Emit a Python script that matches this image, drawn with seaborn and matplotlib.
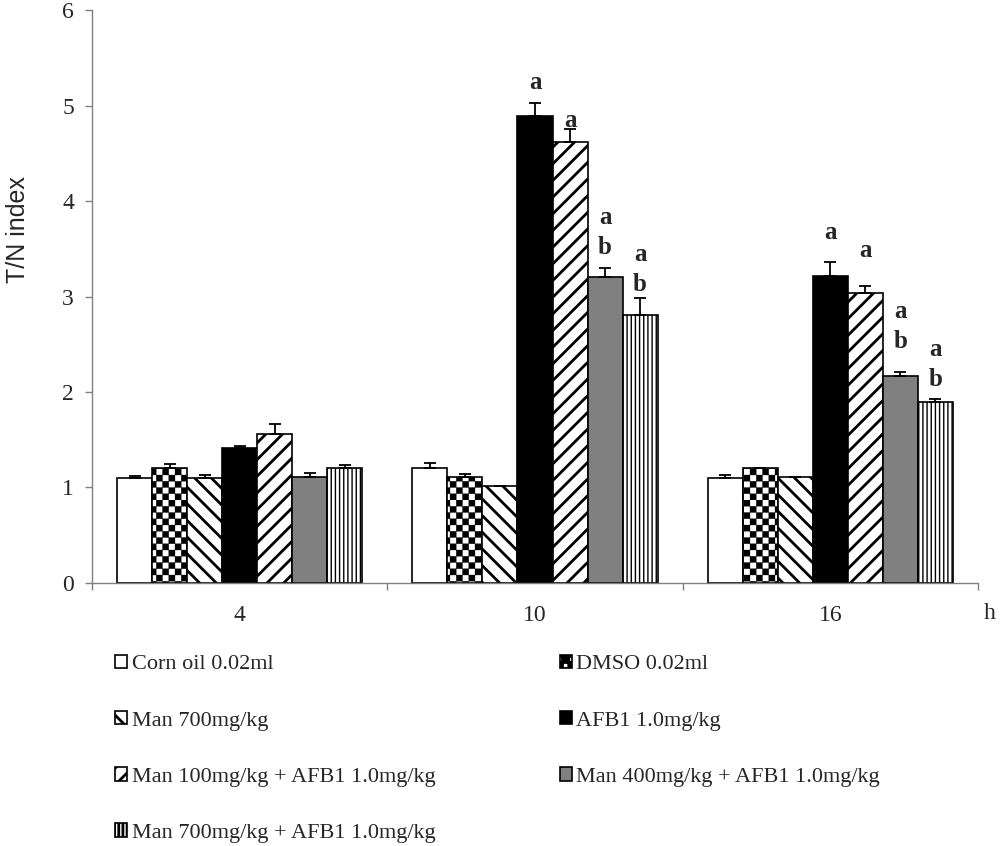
import warnings
import numpy as np
import pandas as pd
import matplotlib
matplotlib.use("Agg")
import matplotlib.pyplot as plt
import matplotlib.hatch as mhatch
from matplotlib.path import Path
import seaborn as sns

warnings.filterwarnings("ignore", message=".*hatch must consist.*")

# data
times = ["4", "10", "16"]
groups = ["Corn oil 0.02ml", "DMSO 0.02ml", "Man 700mg/kg", "AFB1 1.0mg/kg",
          "Man 100mg/kg + AFB1 1.0mg/kg", "Man 400mg/kg + AFB1 1.0mg/kg",
          "Man 700mg/kg + AFB1 1.0mg/kg"]
vals_4 = [1.10, 1.20, 1.10, 1.41, 1.56, 1.11, 1.20]
vals_10 = [1.20, 1.11, 1.02, 4.89, 4.62, 3.20, 2.81]
vals_16 = [1.10, 1.20, 1.11, 3.21, 3.04, 2.17, 1.90]
err_4 = [0.02, 0.05, 0.03, 0.02, 0.10, 0.04, 0.04]
err_10 = [0.06, 0.03, 0.00, 0.14, 0.13, 0.10, 0.17]
err_16 = [0.03, 0.00, 0.00, 0.15, 0.07, 0.04, 0.03]
letters_4 = ["", "", "", "", "", "", ""]
letters_10 = ["", "", "", "a", "a", "a\nb", "a\nb"]
letters_16 = ["", "", "", "a", "a", "a\nb", "a\nb"]

# styling per group
colors = ["white", "white", "white", "black", "white", "#808080", "white"]
hatches = [None, "c", "\\\\", None, "//", None, "||||"]
hatch_lw = [1, 0.2, 2.0, 1, 2.0, 1, 1.0]
letter_pad = {"4": [0] * 7,
              "10": [0, 0, 0, 10, 2, 10, 5],
              "16": [0, 0, 0, 17, 21, 17, 9]}


# checkerboard hatch (not built into matplotlib)
class CheckerHatch(mhatch.HatchPatternBase):
    def __init__(self, hatch, density):
        self.n = 16 if "c" in hatch else 0
        self.num_vertices = (self.n * self.n // 2) * 5

    def set_vertices_and_codes(self, vertices, codes):
        s = 1.0 / self.n
        sq = np.array([[0, 0], [1, 0], [1, 1], [0, 1], [0, 0]]) * s
        k = 0
        for i in range(self.n):
            for j in range(self.n):
                if (i + j) % 2 == 0:
                    vertices[k:k + 5] = sq + [i * s, j * s]
                    codes[k:k + 5] = [Path.MOVETO, Path.LINETO, Path.LINETO,
                                      Path.LINETO, Path.CLOSEPOLY]
                    k += 5


mhatch._hatch_types.append(CheckerHatch)

rows = []
for t, v, e, l in zip(times, [vals_4, vals_10, vals_16], [err_4, err_10, err_16],
                      [letters_4, letters_10, letters_16]):
    for i, g in enumerate(groups):
        rows.append({"time": t, "group": g, "value": v[i], "err": e[i], "letter": l[i], "gi": i})
df = pd.DataFrame(rows)

sns.set_style("white")
plt.rcParams["font.family"] = ["Liberation Serif", "DejaVu Serif"]
plt.rcParams["hatch.linewidth"] = 2.0

fig = plt.figure(figsize=(10, 8.46), dpi=100)
ax = fig.add_axes([0.092, 0.311, 0.886, 0.677])

sns.barplot(data=df, x="time", y="value", hue="group", order=times, hue_order=groups,
            palette=colors, saturation=1, edgecolor="black", linewidth=1.2,
            width=0.83, errorbar=None, legend=False, ax=ax)
bar_sets = list(ax.containers)

for gi, cont in enumerate(bar_sets):
    for bar in cont:
        if hatches[gi]:
            bar.set_hatch(hatches[gi])
            if hasattr(bar, "set_hatch_linewidth"):
                bar.set_hatch_linewidth(hatch_lw[gi])

# error bars and letters placed from the drawn bars
for gi, cont in enumerate(bar_sets):
    sub = df[df["gi"] == gi]
    xs = [b.get_x() + b.get_width() / 2 for b in cont]
    hs = [b.get_height() for b in cont]
    ax.errorbar(xs, hs, yerr=[np.zeros(len(hs)), sub["err"].values], fmt="none",
                ecolor="black", elinewidth=1.3, capsize=4, capthick=1.3, zorder=5)
    for x, h, (_, r) in zip(xs, hs, sub.iterrows()):
        if r["letter"]:
            ax.annotate(r["letter"], (x, h + r["err"]), xytext=(0, letter_pad[r["time"]][gi]),
                        textcoords="offset points", ha="center", va="baseline",
                        fontsize=18, fontweight="bold", linespacing=1.4)

ax.set_ylim(0, 6)
ax.set_xlim(-0.5, 2.5)
ax.set_yticks(range(7))
ax.tick_params(axis="y", direction="out", length=5, width=1, color="#808080",
               labelsize=17, pad=8, left=True)
ax.set_xticks([-0.5, 0.5, 1.5, 2.5], minor=True)
ax.tick_params(axis="x", which="major", length=0, labelsize=17, pad=16)
ax.tick_params(axis="x", which="minor", direction="out", length=5, width=1,
               color="#808080", bottom=True)
ax.set_xlabel("")
ax.set_ylabel("")
for side in ["top", "right"]:
    ax.spines[side].set_visible(False)
for side in ["left", "bottom"]:
    ax.spines[side].set_color("#808080")
    ax.spines[side].set_linewidth(1)

fig.text(0.018, 1 - 230 / 846, "T/N index", rotation=90, ha="center", va="center",
         fontsize=18, family=["Liberation Sans", "DejaVu Sans"])
fig.text(0.99, 1 - 613 / 846, "h", ha="center", va="center", fontsize=17)

# legend, 2 columns filled row by row
handles = [cont[0] for cont in bar_sets]
order = [0, 2, 4, 6, 1, 3, 5]
fig.legend([handles[i] for i in order], [groups[i] for i in order],
           loc="upper left", bbox_to_anchor=(0.115, 0.226), ncol=2, frameon=False,
           fontsize=16, handlelength=0.55, handleheight=0.55, handletextpad=0.2,
           labelspacing=1.65, columnspacing=5.6, borderpad=0, borderaxespad=0)

fig.savefig("out.png", dpi=100)
